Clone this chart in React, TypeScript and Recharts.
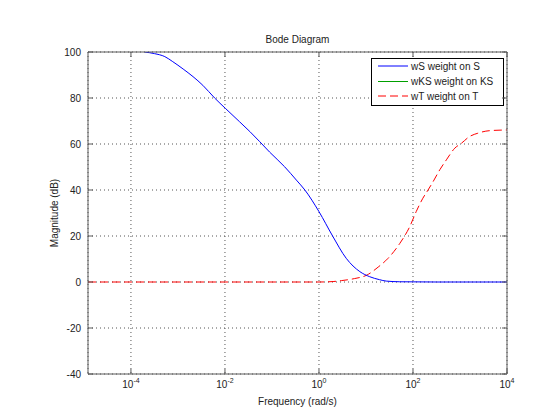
import React from 'react';
import { LineChart, Line, XAxis, YAxis, CartesianGrid } from 'recharts';

// Frequencies (rad/s) and magnitudes (dB)
const wsFreq = [1.95e-4, 3.16e-4, 5.25e-4, 7.76e-4, 1.29e-3, 2.09e-3, 3.39e-3, 6.03e-3, 1.02e-2, 2.04e-2, 3.39e-2, 5.5e-2, 8.9e-2, 0.186, 0.331, 0.501, 1, 1.95, 3.8, 7.41, 12.0, 19.5, 26.9, 52.5, 316, 1e4];
const wsMag = [100, 99.3, 98, 95.8, 92.6, 89.3, 85.5, 80, 75.5, 69.7, 65.4, 61, 56.5, 50.1, 44.3, 40, 30.6, 20, 10.3, 4.5, 2.3, 1.0, 0.4, 0.1, 0, 0];

const wtFreq = [1.22e-5, 1, 2, 3, 5.75, 10.2, 18.2, 29.5, 52.5, 85, 117, 162, 209, 269, 372, 513, 776, 1070, 1585, 2400, 4270, 1e4];
const wtMag = [0, 0, 0.2, 0.6, 1.5, 2.9, 6.5, 10.3, 16.8, 24, 30.6, 36.4, 40, 43.7, 48.8, 53.1, 58.2, 60.3, 63.2, 64.7, 65.8, 66.1];

const wksFreq: number[] = [];
const wksMag: number[] = [];

const xTicks = [1e-4, 1e-2, 1, 1e2, 1e4];
const xTickExponents = ['-4', '-2', '0', '2', '4'];
const yTicks = [-40, -20, 0, 20, 40, 60, 80, 100];

const legendLabels = ['wS weight on S', 'wKS weight on KS', 'wT weight on T'];

const wsData = wsFreq.map((f, i) => ({ freq: f, mag: wsMag[i] }));
const wtData = wtFreq.map((f, i) => ({ freq: f, mag: wtMag[i] }));
const wksData = wksFreq.map((f, i) => ({ freq: f, mag: wksMag[i] }));

const FONT = '"Liberation Sans", Arial, Helvetica, sans-serif';
const AXIS = '#5a5a5a';
const TEXT = '#222';

const BottomTick = (props: any) => {
  const { x, y, index } = props;
  return (
    <g>
      <line x1={x} x2={x} y1={y} y2={y - 5} stroke={AXIS} />
      <text x={x} y={y + 14} textAnchor="middle" fontSize={10} fill={TEXT} fontFamily={FONT}>
        10<tspan dy={-5} fontSize={7}>{xTickExponents[index]}</tspan>
      </text>
    </g>
  );
};
const TopTick = (props: any) => {
  const { x, y } = props;
  return <line x1={x} x2={x} y1={y} y2={y + 5} stroke={AXIS} />;
};
const LeftTick = (props: any) => {
  const { x, y, payload } = props;
  return (
    <g>
      <line x1={x} x2={x + 5} y1={y} y2={y} stroke={AXIS} />
      <text x={x - 7} y={y + 3.5} textAnchor="end" fontSize={10} fill={TEXT} fontFamily={FONT}>
        {payload.value}
      </text>
    </g>
  );
};
const RightTick = (props: any) => {
  const { x, y } = props;
  return <line x1={x} x2={x - 5} y1={y} y2={y} stroke={AXIS} />;
};

const Legendbox = () => {
  const colors = ['#0000ff', '#00a000', '#ff0000'];
  const dashes = [undefined, undefined, '8 4'];
  const ys = [66, 81.5, 96];
  return (
    <g>
      <rect x={371.5} y={58.5} width={132} height={47} fill="#fff" stroke="#000" />
      {legendLabels.map((l, i) => (
        <g key={l}>
          <line x1={378} x2={408} y1={ys[i]} y2={ys[i]} stroke={colors[i]} strokeDasharray={dashes[i]} />
          <text x={411} y={ys[i] + 3.5} fontSize={10} fill={TEXT} fontFamily={FONT}>{l}</text>
        </g>
      ))}
    </g>
  );
};

export default function App() {
  return (
    <div style={{ position: 'absolute', left: 0, top: 0, background: '#fff' }}>
      <LineChart width={560} height={420} margin={{ top: 0, right: 0, bottom: 0, left: 0 }}>
        <CartesianGrid stroke="#555" strokeDasharray="1 3" />
        <XAxis
          dataKey="freq"
          type="number"
          scale="log"
          domain={[1.22e-5, 1e4]}
          allowDataOverflow
          ticks={xTicks}
          interval={0}
          height={46}
          stroke={AXIS}
          tickSize={0}
          tickMargin={0}
          tickLine={false}
          tick={<BottomTick />}
        />
        <XAxis
          xAxisId="top"
          orientation="top"
          dataKey="freq"
          type="number"
          scale="log"
          domain={[1.22e-5, 1e4]}
          allowDataOverflow
          ticks={xTicks}
          interval={0}
          height={52}
          stroke={AXIS}
          tickSize={0}
          tickMargin={0}
          tickLine={false}
          tick={<TopTick />}
        />
        <YAxis
          type="number"
          domain={[-40, 100]}
          allowDataOverflow
          ticks={yTicks}
          interval={0}
          width={88}
          stroke={AXIS}
          tickSize={0}
          tickMargin={0}
          tickLine={false}
          tick={<LeftTick />}
        />
        <YAxis
          yAxisId="right"
          orientation="right"
          type="number"
          domain={[-40, 100]}
          allowDataOverflow
          ticks={yTicks}
          interval={0}
          width={53}
          stroke={AXIS}
          tickSize={0}
          tickMargin={0}
          tickLine={false}
          tick={<RightTick />}
        />
        <Line data={wtData} dataKey="mag" type="monotone" stroke="#ff0000" strokeWidth={1} strokeDasharray="8 4" dot={false} isAnimationActive={false} />
        <Line data={wksData} dataKey="mag" type="monotone" stroke="#00a000" strokeWidth={1} dot={false} isAnimationActive={false} />
        <Line data={wsData} dataKey="mag" type="monotone" stroke="#0000ff" strokeWidth={1} dot={false} isAnimationActive={false} />
        <text x={297.5} y={43} textAnchor="middle" fontSize={10} fill={TEXT} fontFamily={FONT}>Bode Diagram</text>
        <text x={297.5} y={405} textAnchor="middle" fontSize={10} fill={TEXT} fontFamily={FONT}>Frequency (rad/s)</text>
        <text x={58} y={213} textAnchor="middle" fontSize={10} fill={TEXT} fontFamily={FONT} transform="rotate(-90 58 213)">Magnitude (dB)</text>
        <Legendbox />
      </LineChart>
    </div>
  );
}
